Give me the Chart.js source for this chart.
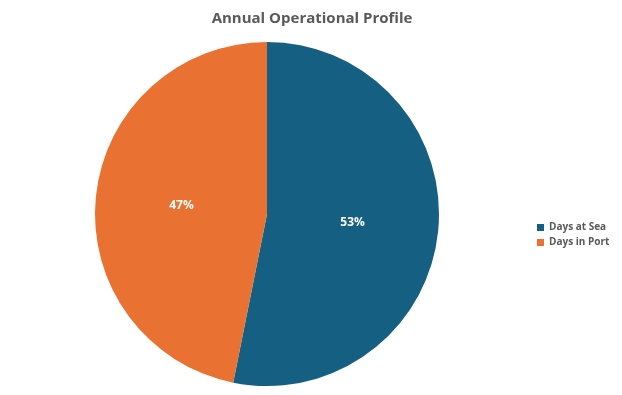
<!DOCTYPE html>
<html>
<head>
<meta charset="utf-8">
<script src="https://cdn.jsdelivr.net/npm/chart.js@4"></script>
<style>
  html, body { margin: 0; padding: 0; background: #fff; }
  #wrap { width: 622px; height: 395px; }
</style>
</head>
<body>
<div id="wrap"><canvas id="myChart" width="622" height="395"></canvas></div>
<script>
(function () {
  'use strict'

  const labels = ['Days at Sea', 'Days in Port']
  const days = [194, 171]
  const colors = ['#156082', '#E97132']

  // percent labels in the middle of each slice
  const sliceLabels = {
    id: 'sliceLabels',
    afterDatasetsDraw(chart) {
      const ctx = chart.ctx
      const meta = chart.getDatasetMeta(0)
      const total = days.reduce((a, b) => a + b, 0)
      ctx.save()
      ctx.fillStyle = '#ffffff'
      ctx.font = 'bold 12px "Open Sans", sans-serif'
      ctx.textAlign = 'center'
      ctx.textBaseline = 'middle'
      meta.data.forEach((arc, i) => {
        const pos = arc.tooltipPosition()
        ctx.fillText(Math.round(days[i] / total * 100) + '%', pos.x, pos.y)
      })
      ctx.restore()
    }
  }

  // fixed legend width so the pie sits where it should
  const legendWidth = {
    id: 'legendWidth',
    beforeInit(chart) {
      const fit = chart.legend.fit
      chart.legend.fit = function () {
        fit.bind(chart.legend)()
        this.width = 90
      }
    }
  }

  const data = {
    labels: labels,
    datasets: [{ data: days, backgroundColor: colors, borderWidth: 0 }]
  }

  const config = {
    type: 'pie',
    data: data,
    options: {
      responsive: false,
      animation: false,
      layout: { padding: { top: 4, bottom: 9, left: 2, right: 0 } },
      plugins: {
        title: {
          display: true,
          text: 'Annual Operational Profile',
          color: '#595959',
          font: { family: '"Open Sans", sans-serif', size: 15, weight: 'bold' },
          padding: { top: 6, bottom: 14 }
        },
        legend: {
          position: 'right',
          title: { display: true, text: ' ', font: { size: 10 }, padding: { top: 12, bottom: 56 } },
          labels: {
            boxWidth: 7,
            boxHeight: 7,
            padding: 5,
            color: '#595959',
            font: { family: '"Open Sans", sans-serif', size: 10, weight: 'bold' }
          }
        },
        tooltip: { enabled: false }
      }
    },
    plugins: [sliceLabels, legendWidth]
  }

  const myChart = new Chart(document.getElementById('myChart'), config)
})()
</script>
</body>
</html>
